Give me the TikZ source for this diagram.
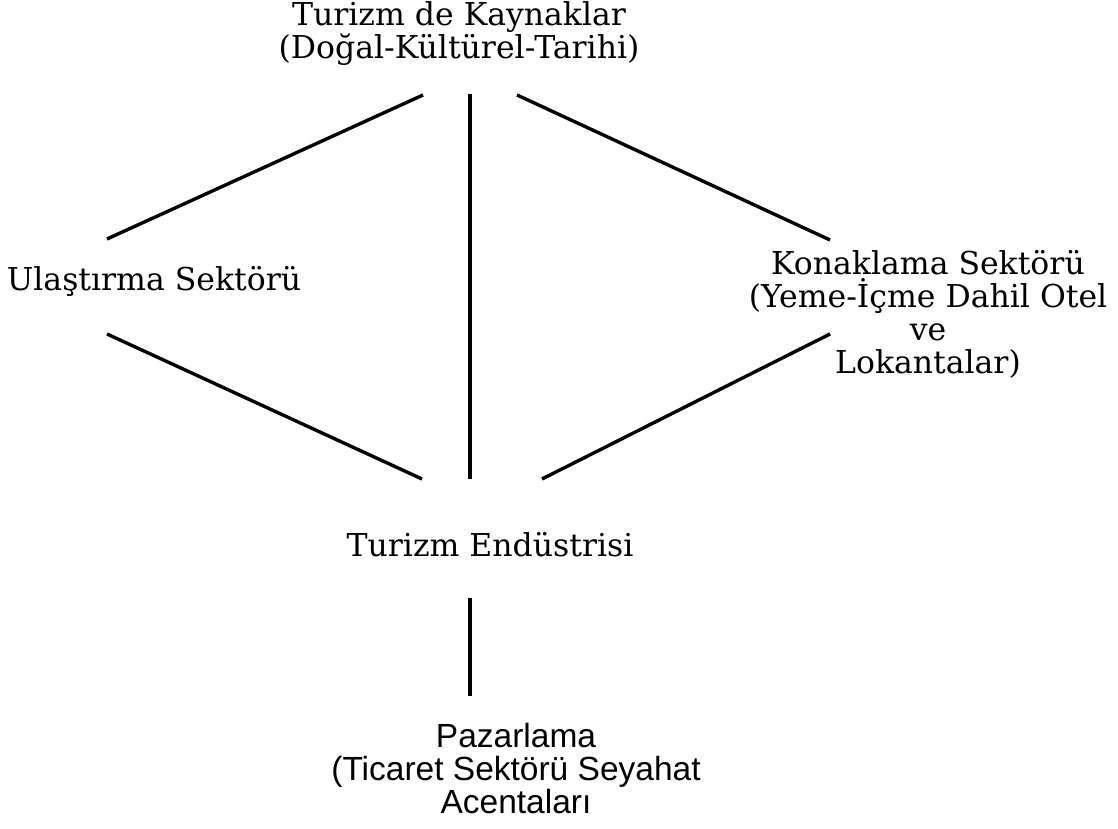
\documentclass[tikz,border=0pt]{standalone}
\usepackage{fontspec}
\setmainfont{DejaVu Serif}
\newfontfamily\sansf{Liberation Sans}
\begin{document}
\begin{tikzpicture}[x=1pt,y=-1pt,
  lbl/.style={align=center,font=\fontsize{31.5}{33}\selectfont,inner sep=0pt},
  slbl/.style={align=center,font=\sansf\fontsize{33.5}{33}\selectfont,inner sep=0pt},
  conn/.style={line width=3.4pt}]
\useasboundingbox (0,0) rectangle (1118,829);
\node[lbl] (top) at (459,34) {Turizm de Kaynaklar\\(Doğal-Kültürel-Tarihi)};
\node[lbl] (ulas) at (154,281) {Ulaştırma Sektörü};
\node[lbl] (kon) at (928,314) {Konaklama Sektörü\\(Yeme-İçme Dahil Otel\\ve\\Lokantalar)};
\node[lbl] (end) at (490,545) {Turizm Endüstrisi};
\node[slbl] (paz) at (516,769) {Pazarlama\\(Ticaret Sektörü Seyahat\\Acentaları};
\coordinate (a1) at (107,239); \coordinate (a2) at (423,95);
\coordinate (b1) at (470,94); \coordinate (b2) at (470,479);
\coordinate (c1) at (517,95); \coordinate (c2) at (830,240);
\coordinate (d1) at (107,334); \coordinate (d2) at (422,479);
\coordinate (e1) at (542,479); \coordinate (e2) at (830,334);
\coordinate (f1) at (470,598); \coordinate (f2) at (470,696);
\draw[conn] (a1) -- (a2);
\draw[conn] (b1) -- (b2);
\draw[conn] (c1) -- (c2);
\draw[conn] (d1) -- (d2);
\draw[conn] (e1) -- (e2);
\draw[conn] (f1) -- (f2);
\end{tikzpicture}
\end{document}
